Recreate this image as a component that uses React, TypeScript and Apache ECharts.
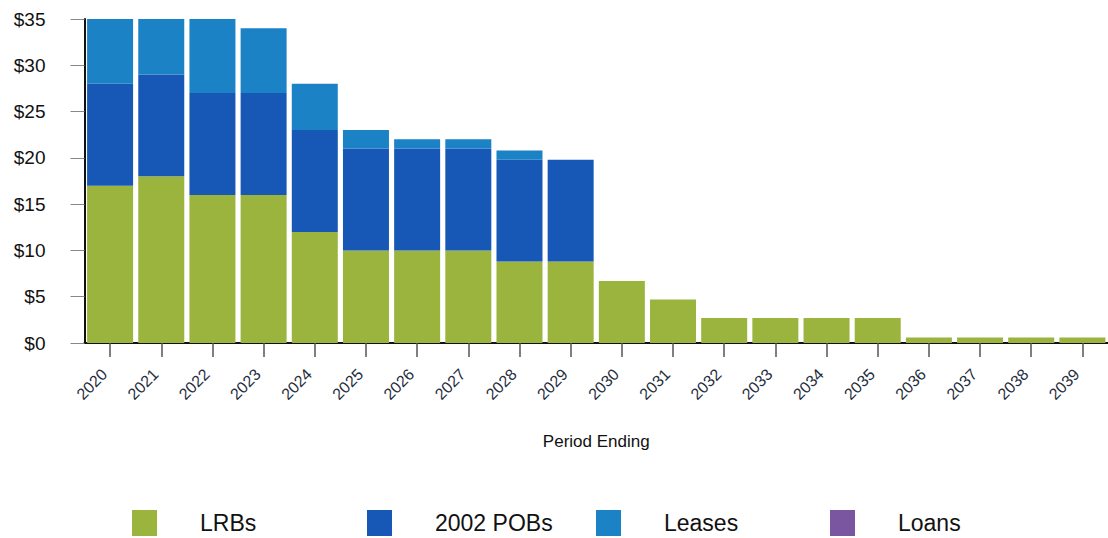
import React, { useEffect, useRef } from "react";
import * as echarts from "echarts";

const years = ["2020","2021","2022","2023","2024","2025","2026","2027","2028","2029","2030","2031","2032","2033","2034","2035","2036","2037","2038","2039"];
const lrbs = [17, 18, 16, 16, 12, 10, 10, 10, 8.8, 8.8, 6.7, 4.7, 2.7, 2.7, 2.7, 2.7, 0.6, 0.6, 0.6, 0.6];
const pobs = [11, 11, 11, 11, 11, 11, 11, 11, 11, 11, 0, 0, 0, 0, 0, 0, 0, 0, 0, 0];
const leases = [7, 6, 8, 7, 5, 2, 1, 1, 1, 0, 0, 0, 0, 0, 0, 0, 0, 0, 0, 0];
const loans = [0, 0, 0, 0, 0, 0, 0, 0, 0, 0, 0, 0, 0, 0, 0, 0, 0, 0, 0, 0];
const yTicks = [0, 5, 10, 15, 20, 25, 30, 35];

const seriesNames = ["LRBs", "2002 POBs", "Leases", "Loans"];
const seriesColors = ["#9ab43e", "#1758b6", "#1b82c5", "#7a55a0"];
const seriesData = [lrbs, pobs, leases, loans];
const legendLefts = [132, 367, 596, 830];

export default function App() {
  const ref = useRef<HTMLDivElement>(null);
  useEffect(() => {
    if (!ref.current) return;
    const chart = echarts.init(ref.current, undefined, { renderer: "svg" });
    chart.setOption({
      animation: false,
      backgroundColor: "#ffffff",
      textStyle: { fontFamily: "Liberation Sans, Arial, sans-serif" },
      grid: { left: 84.5, top: 19, bottom: 195, right: -6.5, containLabel: false },
      legend: seriesNames.map((n, i) => ({
        data: [n],
        left: legendLefts[i],
        top: 510,
        icon: "rect",
        itemWidth: 25,
        itemHeight: 26,
        selectedMode: false,
        padding: 0,
        textStyle: { fontSize: 23, color: "#111", padding: [0, 0, 0, 38], fontFamily: "Liberation Sans, Arial, sans-serif" },
      })),
      xAxis: {
        type: "category",
        data: years,
        name: "Period Ending",
        nameLocation: "middle",
        nameGap: 90,
        nameTextStyle: { fontSize: 17, color: "#111" },
        axisLine: { lineStyle: { color: "#111", width: 2 } },
        axisTick: { show: true, alignWithLabel: true, length: 14, lineStyle: { color: "#555", width: 1.5 } },
        axisLabel: { rotate: 45, fontSize: 16, color: "#1f2d3d", margin: 23, interval: 0, padding: [0, 8, 0, 0] },
      },
      yAxis: {
        type: "value",
        min: 0,
        max: 35,
        interval: 5,
        axisLine: { show: true, lineStyle: { color: "#111", width: 2 } },
        axisTick: { show: true, length: 14, lineStyle: { color: "#888", width: 1 } },
        splitLine: { show: false },
        axisLabel: {
          fontSize: 19,
          color: "#111",
          margin: 39,
          formatter: (v: number) => (yTicks.includes(v) ? "$" + v : ""),
        },
      },
      series: seriesNames.map((n, i) => ({
        name: n,
        type: "bar",
        stack: "total",
        barWidth: 46,
        data: seriesData[i],
        itemStyle: { color: seriesColors[i] },
      })),
    });
    return () => chart.dispose();
  }, []);
  return <div ref={ref} style={{ position: "fixed", left: 0, top: 0, width: 1108, height: 538 }} />;
}
